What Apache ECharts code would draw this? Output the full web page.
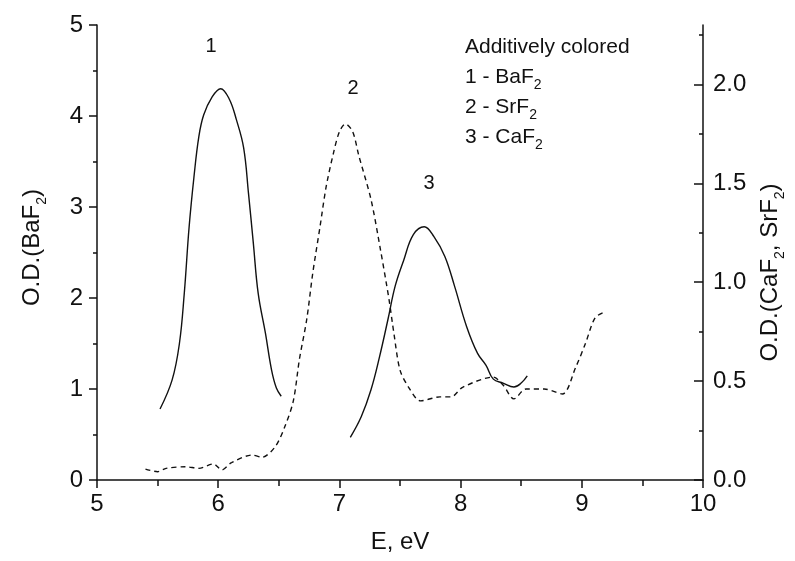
<!DOCTYPE html>
<html>
<head>
<meta charset="utf-8">
<script src="https://cdn.jsdelivr.net/npm/echarts@6/dist/echarts.min.js"></script>
<style>
  html, body { margin: 0; padding: 0; background: #fff; }
  #chart { width: 795px; height: 561px; }
</style>
</head>
<body>
<div id="chart"></div>
<script>
// curve 1 - BaF2 (left axis)
var energyBa = [5.52, 5.62, 5.68, 5.72, 5.76, 5.80, 5.84, 5.88, 5.95, 6.02, 6.09, 6.15, 6.21, 6.25, 6.29, 6.33, 6.39, 6.44, 6.48, 6.52];
var odBa = [0.78, 1.10, 1.50, 2.05, 2.78, 3.33, 3.77, 4.01, 4.21, 4.30, 4.19, 3.96, 3.65, 3.15, 2.60, 2.05, 1.61, 1.21, 1.01, 0.92];

// curve 2 - SrF2 (right axis, dashed)
var energySr = [5.40, 5.50, 5.57, 5.73, 5.84, 5.96, 6.03, 6.11, 6.28, 6.36, 6.47, 6.55, 6.62, 6.67, 6.73, 6.78, 6.84, 6.89, 6.95, 7.00, 7.05, 7.11, 7.16, 7.26, 7.34, 7.41, 7.45, 7.50, 7.57, 7.67, 7.83, 7.92, 8.02, 8.27, 8.35, 8.44, 8.54, 8.69, 8.84, 8.95, 9.03, 9.11, 9.19];
var odSr = [0.055, 0.042, 0.059, 0.067, 0.059, 0.081, 0.051, 0.088, 0.126, 0.115, 0.168, 0.27, 0.40, 0.61, 0.81, 1.045, 1.28, 1.48, 1.65, 1.76, 1.80, 1.76, 1.64, 1.42, 1.16, 0.91, 0.74, 0.556, 0.47, 0.40, 0.42, 0.42, 0.47, 0.52, 0.48, 0.41, 0.46, 0.46, 0.435, 0.57, 0.69, 0.82, 0.85];

// curve 3 - CaF2 (right axis)
var energyCa = [7.09, 7.18, 7.26, 7.33, 7.40, 7.46, 7.53, 7.61, 7.70, 7.78, 7.87, 7.95, 8.05, 8.14, 8.21, 8.27, 8.35, 8.44, 8.50, 8.55];
var odCa = [0.216, 0.32, 0.455, 0.62, 0.81, 0.98, 1.11, 1.24, 1.28, 1.23, 1.13, 0.98, 0.775, 0.64, 0.58, 0.51, 0.49, 0.47, 0.49, 0.526];

// right axis ticks
var rightLabels = [0, 0.5, 1.0, 1.5, 2.0];
var rightMinor = [0.25, 0.75, 1.25, 1.75, 2.25];

var legendLines = [
  'Additively colored',
  '1 - BaF{s|2}',
  '2 - SrF{s|2}',
  '3 - CaF{s|2}'
];

function pairs(xs, ys) {
  return xs.map(function (x, i) { return [x, ys[i]]; });
}

var font = 'Liberation Sans, Arial, sans-serif';
var subRich = { s: { fontSize: 14, fontFamily: font, color: '#111', padding: [20, 0, 0, 0] } };
var subRichSmall = { s: { fontSize: 14, fontFamily: font, color: '#111', padding: [17, 0, 0, 0] } };

var dom = document.getElementById('chart');
var myChart = echarts.init(dom);
var option = {
  backgroundColor: '#fff',
  animation: false,
  grid: { left: 97, right: 86, top: 25, bottom: 81 },
  xAxis: {
    type: 'value',
    min: 5, max: 10, interval: 1,
    name: 'E, eV',
    nameLocation: 'middle',
    nameGap: 50,
    nameTextStyle: { fontSize: 24, fontFamily: font, color: '#111' },
    axisLine: { lineStyle: { color: '#111', width: 1.5 } },
    axisTick: { length: 8, lineStyle: { color: '#111', width: 1.5 } },
    minorTick: { show: true, splitNumber: 2, length: 6, lineStyle: { color: '#111', width: 1.5 } },
    axisLabel: { fontSize: 24, fontFamily: font, color: '#111', margin: 12 },
    splitLine: { show: false }
  },
  yAxis: [
    {
      type: 'value',
      position: 'left',
      min: 0, max: 5, interval: 1,
      name: 'O.D.(BaF{s|2})',
      nameLocation: 'middle',
      nameRotate: 90,
      nameGap: 48,
      nameTextStyle: { fontSize: 24, fontFamily: font, color: '#111', rich: subRich, padding: [0, 0, 0, 10] },
      axisLine: { show: true, lineStyle: { color: '#111', width: 1.5 } },
      axisTick: { length: 8, lineStyle: { color: '#111', width: 1.5 } },
      minorTick: { show: true, splitNumber: 2, length: 4, lineStyle: { color: '#111', width: 1.5 } },
      axisLabel: { fontSize: 24, fontFamily: font, color: '#111', margin: 14 },
      splitLine: { show: false }
    },
    {
      type: 'value',
      position: 'right',
      min: 0, max: 2.3,
      name: 'O.D.(CaF{s|2}, SrF{s|2})',
      nameLocation: 'middle',
      nameRotate: 90,
      nameGap: 50,
      nameTextStyle: { fontSize: 24, fontFamily: font, color: '#111', rich: subRich, padding: [0, 40, 0, 0] },
      axisLine: { show: true, lineStyle: { color: '#111', width: 1.5 } },
      axisTick: { inside: true, length: 9, customValues: rightLabels, lineStyle: { color: '#111', width: 1.5 } },
      axisLabel: {
        fontSize: 24, fontFamily: font, color: '#111', margin: 10,
        customValues: rightLabels,
        formatter: function (v) { return v.toFixed(1); }
      },
      splitLine: { show: false }
    },
    {
      type: 'value',
      position: 'right',
      min: 0, max: 2.3,
      axisLine: { show: false },
      axisTick: { show: true, inside: true, length: 4, customValues: rightMinor, lineStyle: { color: '#111', width: 1.5 } },
      axisLabel: { show: false },
      splitLine: { show: false }
    }
  ],
  series: [
    {
      type: 'line', yAxisIndex: 0,
      data: pairs(energyBa, odBa),
      showSymbol: false, smooth: 0.4,
      lineStyle: { color: '#111', width: 1.4 }
    },
    {
      type: 'line', yAxisIndex: 1,
      data: pairs(energySr, odSr),
      showSymbol: false, smooth: 0.3,
      lineStyle: { color: '#111', width: 1.4, type: [5, 4] }
    },
    {
      type: 'line', yAxisIndex: 1,
      data: pairs(energyCa, odCa),
      showSymbol: false, smooth: 0.4,
      lineStyle: { color: '#111', width: 1.4 }
    }
  ],
  graphic: [
    { type: 'text', x: 211, y: 46, style: { text: '1', font: '20px ' + font, fill: '#111', align: 'center', verticalAlign: 'middle' } },
    { type: 'text', x: 353, y: 88, style: { text: '2', font: '20px ' + font, fill: '#111', align: 'center', verticalAlign: 'middle' } },
    { type: 'text', x: 429, y: 183, style: { text: '3', font: '20px ' + font, fill: '#111', align: 'center', verticalAlign: 'middle' } }
  ].concat(legendLines.map(function (t, i) {
    return {
      type: 'text', x: 465, y: [47, 77, 107, 137][i],
      style: { text: t, fontSize: 21, fontFamily: font, fill: '#111', align: 'left', verticalAlign: 'middle', rich: subRichSmall }
    };
  }))
};

if (option && typeof option === 'object') {
  myChart.setOption(option, true);
}
</script>
</body>
</html>
